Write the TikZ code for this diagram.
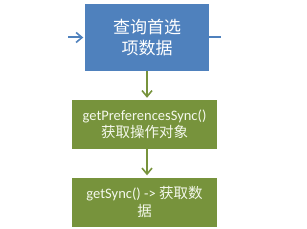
\documentclass[tikz,border=0pt]{standalone}
\usepackage{fontspec}
\setmainfont{Carlito}
\newfontfamily\cjk{Noto Sans CJK SC}
\usetikzlibrary{arrows.meta}
\begin{document}
\begin{tikzpicture}[x=1pt,y=-1pt,
  bluebox/.style={draw=none,fill=blueA,text=white,minimum width=124pt,minimum height=67pt,align=center,inner sep=0pt,font=\fontsize{17}{21}\selectfont},
  greenbox/.style={draw=none,fill=greenA,text=textG,minimum width=145pt,minimum height=49pt,align=center,inner sep=0pt,font=\fontsize{14.5}{17.5}\selectfont},
  tiphead/.style={-{Straight Barb[length=6pt,width=10pt,line width=1.6pt]}},
  garrow/.style={draw=greenA,line width=2pt,tiphead,shorten >=2pt},
  barrow/.style={draw=blueA,line width=2pt}]
\definecolor{blueA}{HTML}{4F81BD}
\definecolor{greenA}{HTML}{77933C}
\definecolor{textG}{HTML}{F4F8EC}
\useasboundingbox (0,0) rectangle (307,229);
\node[bluebox] (q) at (147,37.5) {\cjk 查询首选\\\cjk 项数据};
\node[greenbox] (g1) at (144.5,124.5) {getPreferencesSync()\\{\cjk 获取操作对象}};
\node[greenbox] (g2) at (144.5,202) {getSync() -> {\cjk 获取数}\\{\cjk 据}};
\coordinate (lin) at (68,37.5);
\coordinate (rout) at (221,37.5);
\draw[barrow,tiphead,shorten >=1.5pt] (lin) -- (q.west);
\draw[barrow] (q.east) -- (rout);
\draw[garrow] (q.south -| 147,0) -- (g1.north -| 147,0);
\draw[garrow] (g1.south -| 147,0) -- (g2.north -| 147,0);
\end{tikzpicture}
\end{document}
